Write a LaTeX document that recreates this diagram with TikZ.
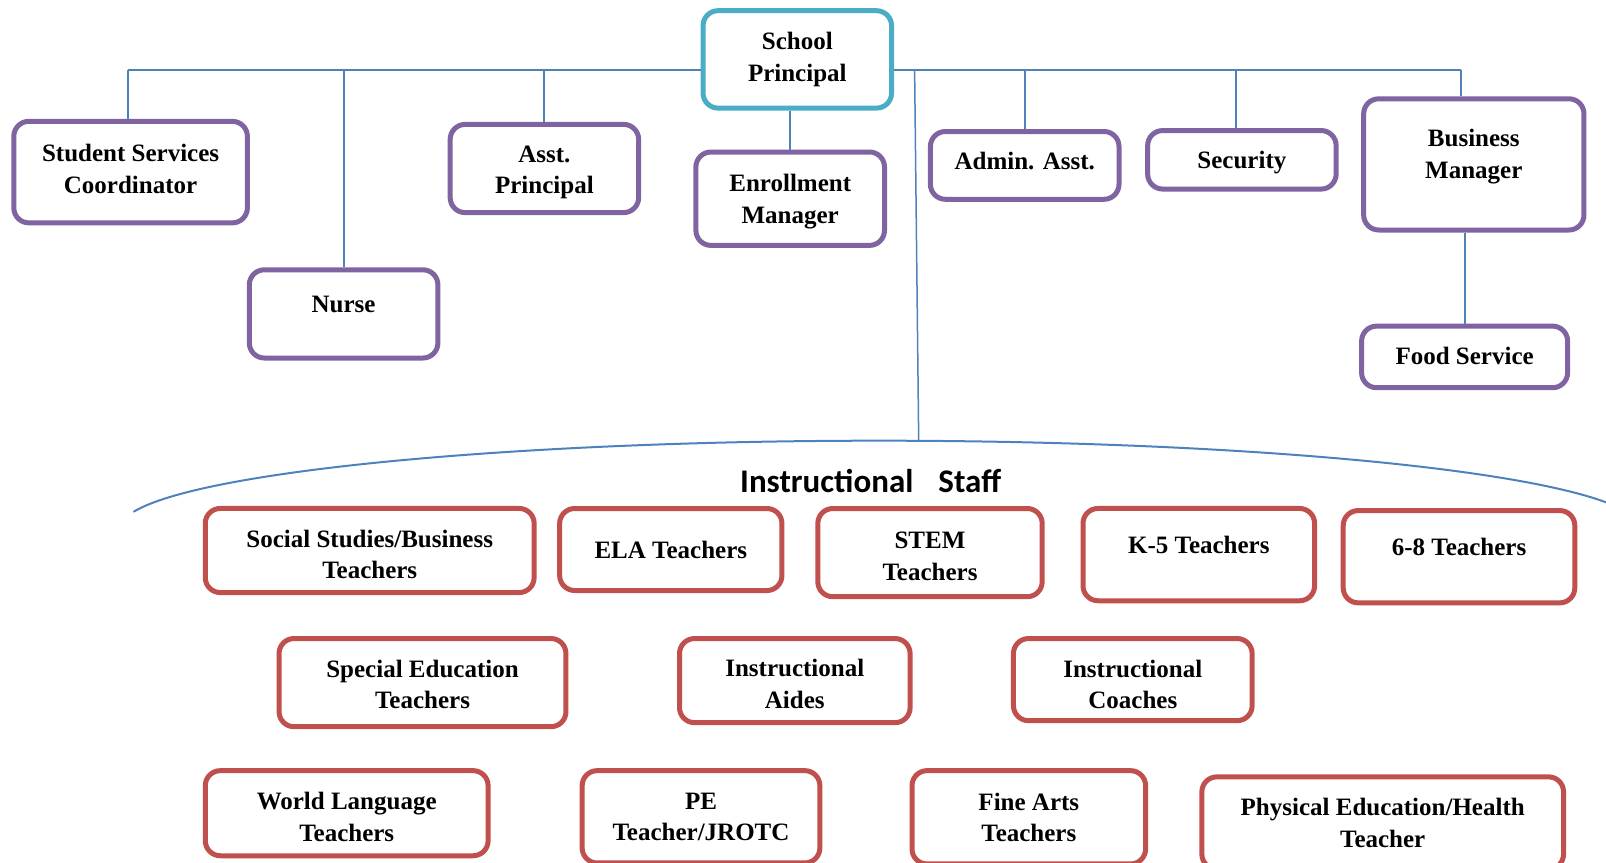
\documentclass[tikz,border=0pt]{standalone}
\usepackage{fontspec}
\setmainfont{Liberation Serif}
\newfontfamily\staffhead{Carlito}

\definecolor{linkblue}{RGB}{79,129,189}
\definecolor{headteal}{RGB}{75,172,198}
\definecolor{officepurple}{RGB}{128,100,162}
\definecolor{teachred}{RGB}{192,80,77}

\tikzset{every picture/.style={line width=0.75pt},
  orgbox/.style={rounded corners=15pt, line width=5pt, fill=white, align=center, inner sep=0pt,
    font=\fontsize{25}{31.7}\selectfont\bfseries},
  boxsize/.style 2 args={minimum width=#1pt, minimum height=#2pt},
  headbox/.style={orgbox, draw=headteal},
  officebox/.style={orgbox, draw=officepurple},
  teachbox/.style={orgbox, draw=teachred},
  lift/.style={text depth=#1pt},
  sink/.style={text height=#1pt, text depth=0pt},
  link/.style={draw=linkblue, line width=2pt}}

\begin{document}
\begin{tikzpicture}[x=1pt,y=1pt,yscale=-1,xscale=1]
\useasboundingbox (0,0) rectangle (1606,862);

%Shape: Rounded Rectangle [head]
\node[headbox, boxsize={188.5}{97.4}] (principal) at (797.3,59.4) {School\\Principal};

%Shape: Rounded Rectangle [offices]
\node[officebox, boxsize={233.6}{101.5}, lift=7] (services) at (130.6,172.1) {Student Services\\Coordinator};
\node[officebox, boxsize={188.6}{88.2}, lift=19.5] (nurse) at (343.6,313.9) {Nurse};
\node[officebox, boxsize={188.5}{88.2}, sink=50.4] (asst) at (544.4,168.5) {Asst.\\Principal};
\node[officebox, boxsize={188.6}{93.4}, lift=0.2] (enroll) at (790.2,198.7) {Enrollment\\Manager};
\node[officebox, boxsize={188.6}{67.8}, lift=9] (admin) at (1024.7,165.4) {Admin. Asst.};
\node[officebox, boxsize={188.5}{58.5}, lift=0] (security) at (1241.9,159.8) {Security};
\node[officebox, boxsize={220.3}{131.2}, lift=20.8] (business) at (1473.8,164.4) {Business\\Manager};
\node[officebox, boxsize={206}{61.6}, lift=2] (food) at (1464.6,356.9) {Food Service};

%Shape: Rounded Rectangle [teachers]
\node[teachbox, boxsize={328.9}{84.1}, sink=56.6] (social) at (369.7,550.5) {Social Studies/Business\\Teachers};
\node[teachbox, boxsize={222.3}{82}] (ela) at (670.8,549.5) {ELA Teachers};
\node[teachbox, boxsize={224.4}{88.2}, sink=55.6] (stem) at (930,552.6) {STEM\\Teachers};
\node[teachbox, boxsize={231.6}{92.3}, lift=19.5] (kfive) at (1198.8,554.6) {K-5 Teachers};
\node[teachbox, boxsize={231.6}{92.3}, lift=19.5] (sixeight) at (1459,556.7) {6-8 Teachers};
\node[teachbox, boxsize={286.9}{88.2}, sink=52.4] (sped) at (422.5,682.6) {Special Education\\Teachers};
\node[teachbox, boxsize={230.6}{84.1}, sink=55.6] (aides) at (794.8,680.6) {Instructional\\Aides};
\node[teachbox, boxsize={238.7}{82.1}, sink=58.6] (coaches) at (1132.8,679.6) {Instructional\\Coaches};
\node[teachbox, boxsize={282.8}{85.1}, sink=55.6] (worldlang) at (346.7,813.2) {World Language\\Teachers};
\node[teachbox, boxsize={237.7}{92.3}] (pejrotc) at (701,816.8) {PE\\Teacher/JROTC};
\node[teachbox, boxsize={233.6}{93.3}] (finearts) at (1028.8,817.3) {Fine Arts\\Teachers};
\node[teachbox, boxsize={361.7}{92.3}] (physed) at (1382.7,823) {Physical Education/Health\\Teacher};

% Text Node
\node[font=\staffhead\fontsize{33}{39}\selectfont\bfseries] (stafftitle) at (870.6,481.4) {Instructional\hspace{25pt}Staff};

%Straight Lines
\coordinate (lbus) at (128,69.6);
\coordinate (rbus) at (1461,69.6);
\coordinate (stafffork) at (914.6,69.6);
\coordinate (stafftop) at (918.7,440.7);
\coordinate (staffarc) at (880,528.2);
\draw[link] (lbus) -- (principal.west |- lbus);
\draw[link] (principal.east |- rbus) -- (rbus);
\draw[link] (lbus) -- (lbus |- services.north);
\draw[link] (nurse.north |- lbus) -- (nurse.north);
\draw[link] (asst.north |- lbus) -- (asst.north);
\draw[link] (principal.south -| enroll.north) -- (enroll.north);
\draw[link] (admin.north |- rbus) -- (admin.north);
\draw[link] ([xshift=-6pt]security.north |- rbus) -- ([xshift=-6pt]security.north);
\draw[link] (rbus) -- (rbus |- business.north);
\draw[link] (business.south -| food.north) -- (food.north);
\draw[link, line width=1.5pt] (stafffork) -- (stafftop);

%Curve Lines
\draw[link] (staffarc) ++(190.8:760 and 87.5) arc[start angle=190.8, end angle=346, x radius=760, y radius=87.5];

\end{tikzpicture}
\end{document}
